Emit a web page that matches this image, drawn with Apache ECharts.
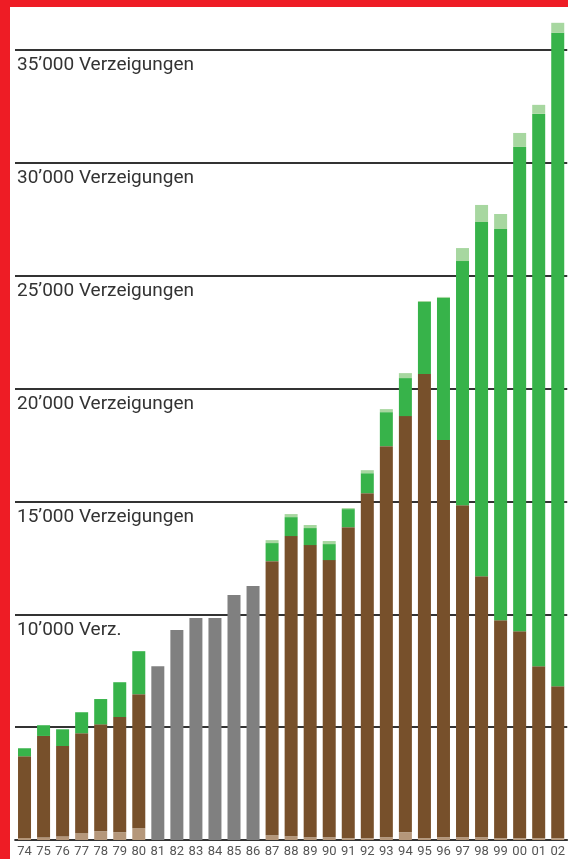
<!DOCTYPE html>
<html>
<head>
<meta charset="utf-8">
<script src="https://cdn.jsdelivr.net/npm/echarts@6/dist/echarts.min.js"></script>
<style>
  html, body { margin: 0; padding: 0; background: #fff; }
  #frame { width: 558px; height: 852px; border-left: 10px solid #ee1c25; border-top: 7px solid #ee1c25; }
  #chart { width: 558px; height: 852px; }
</style>
</head>
<body>
<div id="frame"><div id="chart"></div></div>
<script>
// Jahre 1974 - 2002
var years = ['74','75','76','77','78','79','80','81','82','83','84','85','86','87','88','89','90','91','92','93','94','95','96','97','98','99','00','01','02'];

// unterster Teil (hellbraun)
var lightBrown = [90,110,155,300,385,340,520,null,null,null,null,null,null,210,165,120,120,75,75,120,340,75,120,120,120,75,75,75,75];
// braun
var brown = [3620,4500,4010,4430,4740,5110,5940,null,null,null,null,null,null,12145,13300,12945,12280,13785,15290,17330,18440,20570,17600,14715,11570,9665,9175,7625,6740];
// gruen
var green = [355,475,740,930,1120,1540,1905,null,null,null,null,null,null,800,840,755,710,800,885,1505,1685,3190,6295,10815,15690,17330,21455,24470,28945];
// hellgruen (oben)
var lightGreen = [0,0,0,0,0,0,0,null,null,null,null,null,null,130,135,135,135,45,135,135,220,45,45,575,755,665,620,400,445];
// grau, 1981 - 1986 ohne Aufteilung
var gray = [null,null,null,null,null,null,null,7700,9300,9830,9830,10850,11250,null,null,null,null,null,null,null,null,null,null,null,null,null,null,null,null];

// Beschriftung der Hilfslinien 0 ... 35'000
var yLabels = ['', '', '10’000 Verz.', '15’000 Verzeigungen', '20’000 Verzeigungen', '25’000 Verzeigungen', '30’000 Verzeigungen', '35’000 Verzeigungen'];

var chart = echarts.init(document.getElementById('chart'));

function barSeries(name, data, color) {
  return {
    name: name,
    type: 'bar',
    stack: 'total',
    barWidth: 13,
    clip: false,
    data: data,
    itemStyle: { color: color },
    silent: true
  };
}

chart.setOption({
  animation: false,
  grid: { left: 5, right: -2, top: 43, bottom: 19 },
  xAxis: {
    type: 'category',
    data: years,
    axisTick: { show: false },
    axisLine: { lineStyle: { color: '#555', width: 2 } },
    axisLabel: { color: '#555', fontFamily: 'Roboto', fontSize: 13, margin: 5, interval: 0 }
  },
  yAxis: {
    type: 'value',
    min: 0,
    max: 35000,
    interval: 5000,
    axisLine: { show: false },
    axisTick: { show: false },
    splitLine: { lineStyle: { color: '#333', width: 2 } },
    axisLabel: {
      inside: true,
      margin: 2,
      verticalAlign: 'top',
      padding: [6, 0, 0, 0],
      color: '#333',
      fontFamily: 'Roboto',
      fontSize: 19,
      formatter: function (v, i) {
        return yLabels[i] || '';
      }
    },
    z: 1
  },
  series: [
    barSeries('hellbraun', lightBrown, '#b5977a'),
    barSeries('braun', brown, '#77502b'),
    barSeries('gruen', green, '#37b34a'),
    barSeries('hellgruen', lightGreen, '#a7d7a0'),
    barSeries('grau', gray, '#808080')
  ]
});
</script>
</body>
</html>
